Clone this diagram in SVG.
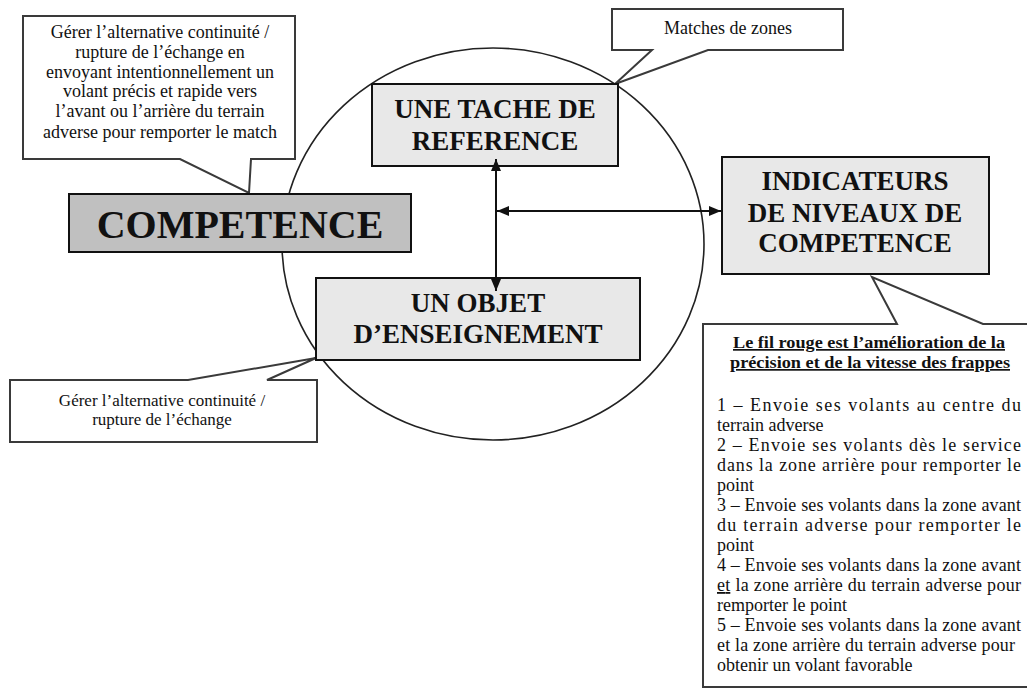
<svg xmlns="http://www.w3.org/2000/svg" width="1027" height="689" viewBox="0 0 1027 689">
<style>
.call{fill:#fff;stroke:#3a3a3a;stroke-width:2;stroke-linejoin:miter}
.box{fill:#e8e8e8;stroke:#111;stroke-width:2}
.t{font-family:"Liberation Serif","Times New Roman",serif;fill:#111}
.s{font-size:18px}
.b{font-size:27px;font-weight:bold;text-anchor:middle}
.c{text-anchor:middle}
.conn{stroke:#111;stroke-width:2;fill:none}
</style>
<defs>
<marker id="ah" viewBox="0 0 12 10" refX="12" refY="5" markerWidth="12" markerHeight="10" markerUnits="userSpaceOnUse" orient="auto-start-reverse">
<path d="M0,0 L12,5 L0,10 Z" fill="#111"/>
</marker>
</defs>
<rect width="1027" height="689" fill="#fff"/>
<ellipse id="circle" cx="493" cy="244" rx="211" ry="196" fill="none" stroke="#222" stroke-width="1.6"/>

<g id="callout-competence">
<path class="call" d="M23,16 H295 V159 H251 L249,193 L180,159 H23 Z"/>
<text class="t s c" x="160" y="38">Gérer l’alternative continuité /</text>
<text class="t s c" x="160" y="58">rupture de l’échange en</text>
<text class="t s c" x="160" y="78">envoyant intentionnellement un</text>
<text class="t s c" x="160" y="97">volant précis et rapide vers</text>
<text class="t s c" x="160" y="117">l’avant ou l’arrière du terrain</text>
<text class="t s c" x="160" y="138">adverse pour remporter le match</text>
</g>

<g id="callout-matches">
<path class="call" d="M612,9 H843 V50 H708 L615,84 L652,50 H612 Z"/>
<text class="t s c" x="728" y="34">Matches de zones</text>
</g>

<g id="callout-objet">
<path class="call" d="M10,380 H188 L316,358 L267,380 H317 V442 H10 Z"/>
<text class="t c" font-size="17" x="162" y="406">Gérer l’alternative continuité /</text>
<text class="t c" font-size="17" x="162" y="425">rupture de l’échange</text>
</g>

<g id="callout-indicateurs">
<path class="call" d="M703,324 H897 L872,277 L983,324 H1030 V687 H703 Z"/>
<text class="t" font-size="17" x="869" y="348" text-anchor="middle" font-weight="bold" text-decoration="underline" textLength="272" lengthAdjust="spacingAndGlyphs">Le fil rouge est l’amélioration de la</text>
<text class="t" font-size="17" x="870" y="368" text-anchor="middle" font-weight="bold" text-decoration="underline" textLength="280" lengthAdjust="spacingAndGlyphs">précision et de la vitesse des frappes</text>
<text class="t s" x="717" y="411" textLength="304" lengthAdjust="spacing">1 – Envoie ses volants au centre du</text>
<text class="t s" x="717" y="431">terrain adverse</text>
<text class="t s" x="717" y="451" textLength="304" lengthAdjust="spacing">2 – Envoie ses volants dès le service</text>
<text class="t s" x="717" y="471" textLength="304" lengthAdjust="spacing">dans la zone arrière pour remporter le</text>
<text class="t s" x="717" y="491">point</text>
<text class="t s" x="717" y="511" textLength="304" lengthAdjust="spacing">3 – Envoie ses volants dans la zone avant</text>
<text class="t s" x="717" y="531" textLength="304" lengthAdjust="spacing">du terrain adverse pour remporter le</text>
<text class="t s" x="717" y="551">point</text>
<text class="t s" x="717" y="571" textLength="304" lengthAdjust="spacing">4 – Envoie ses volants dans la zone avant</text>
<text class="t s" x="717" y="591" textLength="304" lengthAdjust="spacing"><tspan text-decoration="underline">et</tspan> la zone arrière du terrain adverse pour</text>
<text class="t s" x="717" y="611">remporter le point</text>
<text class="t s" x="717" y="631" textLength="304" lengthAdjust="spacing">5 – Envoie ses volants dans la zone avant</text>
<text class="t s" x="717" y="651" textLength="298" lengthAdjust="spacing">et la zone arrière du terrain adverse pour</text>
<text class="t s" x="717" y="671">obtenir un volant favorable</text>
</g>

<g id="node-competence">
<rect x="69" y="194" width="342" height="58" fill="#c0c0c0" stroke="#111" stroke-width="2"/>
<text class="t" x="240" y="238" font-size="40" font-weight="bold" text-anchor="middle">COMPETENCE</text>
</g>

<g id="node-tache">
<rect class="box" x="372" y="84" width="246" height="82"/>
<text class="t b" x="495" y="118">UNE TACHE DE</text>
<text class="t b" x="495" y="150">REFERENCE</text>
</g>

<g id="node-objet">
<rect class="box" x="316" y="278" width="324" height="82"/>
<text class="t b" x="478" y="312">UN OBJET</text>
<text class="t b" x="478" y="343">D’ENSEIGNEMENT</text>
</g>

<g id="node-indicateurs">
<rect class="box" x="722" y="157" width="267" height="117"/>
<text class="t b" x="855" y="190">INDICATEURS</text>
<text class="t b" x="855" y="222">DE NIVEAUX DE</text>
<text class="t b" x="855" y="252">COMPETENCE</text>
</g>

<g id="connectors">
<line class="conn" x1="496" y1="159" x2="496" y2="291" marker-start="url(#ah)" marker-end="url(#ah)"/>
<line class="conn" x1="497" y1="211" x2="721" y2="211" marker-start="url(#ah)" marker-end="url(#ah)"/>
</g>
</svg>
